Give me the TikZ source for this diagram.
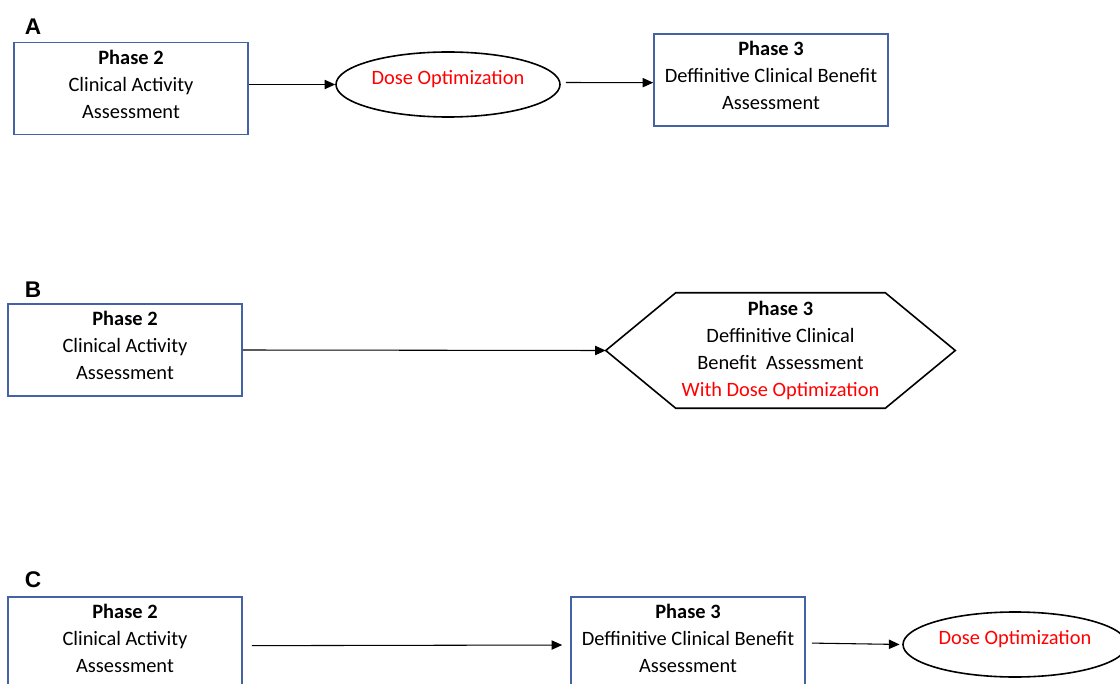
\documentclass[tikz,border=0pt]{standalone}
\usepackage{fontspec}
\setmainfont{Carlito}
\newfontfamily\labfont{Liberation Sans}
\usetikzlibrary{arrows.meta,calc,shapes.geometric}
\definecolor{boxblue}{RGB}{68,98,166}
\definecolor{optred}{RGB}{255,0,0}
\newcommand{\lowpad}{\rule[-6.8pt]{0pt}{0pt}}
\begin{document}
\begin{tikzpicture}[x=0.75pt,y=-0.75pt,
  txt/.style={font=\fontsize{15.3}{20.25}\selectfont, align=center, inner sep=0pt},
  phase/.style={txt, draw=boxblue, line width=1.2pt, minimum width=175.5pt, minimum height=69pt},
  opt/.style={txt, draw=black, line width=1.2pt, ellipse, minimum width=168pt, minimum height=48.75pt, text=optred},
  hexnode/.style={txt, minimum width=261.75pt, minimum height=86.25pt},
  lab/.style={font=\labfont\bfseries\fontsize{17}{20}\selectfont, inner sep=0pt},
  arr/.style={draw=black, line width=0.8pt, -{Triangle[length=8pt,width=7pt]}}
]
\useasboundingbox (0,0) rectangle (1120,684);
\clip (0,0) rectangle (1120,684);

% ---- A ----
\node[lab] (labA) at (33,27) {A};
\node[phase] (a1) at (131,88.5) {\textbf{Phase 2}\\Clinical Activity\\Assessment\lowpad};
\node[opt] (a2) at (448,84.5) {\raisebox{11pt}{Dose Optimization}};
\node[phase] (a3) at (771,80) {\textbf{Phase 3}\\Deffinitive Clinical Benefit\\Assessment\lowpad};
\draw[arr] (a1.east |- a2.west) -- (a2.west);
\draw[arr, shorten <=3.75pt] ([yshift=1.5pt]a2.east) -- ([yshift=-2pt]a3.west);

% ---- B ----
\node[lab] (labB) at (33,290) {B};
\node[phase] (b1) at (125,350) {\textbf{Phase 2}\\Clinical Activity\\Assessment\lowpad};
\node[hexnode] (b2) at (780.5,350.5) {\textbf{Phase 3}\\Deffinitive Clinical\\Benefit\ \ Assessment\\\textcolor{optred}{With Dose Optimization}};
\draw[line width=1.2pt, line join=miter] (b2.west) -- ($(b2.north west)+(70,0)$) -- ($(b2.north east)+(-70,0)$) -- (b2.east) -- ($(b2.south east)+(-70,0)$) -- ($(b2.south west)+(70,0)$) -- cycle;
\draw[arr] (b1.east) -- (b2.west);

% ---- C ----
\node[lab] (labC) at (33,580) {C};
\node[phase] (c1) at (125,643) {\textbf{Phase 2}\\Clinical Activity\\Assessment\lowpad};
\node[phase] (c2) at (688,643) {\textbf{Phase 3}\\Deffinitive Clinical Benefit\\Assessment\lowpad};
\node[opt] (c3) at (1015,644.5) {\raisebox{11pt}{Dose Optimization}};
\draw[arr, shorten <=6.75pt, shorten >=6pt] ([yshift=-2pt]c1.east) -- ([yshift=-1.5pt]c2.west);
\draw[arr, shorten <=4.5pt, shorten >=2pt] (c2.east) -- (c3.west);
\end{tikzpicture}
\end{document}
